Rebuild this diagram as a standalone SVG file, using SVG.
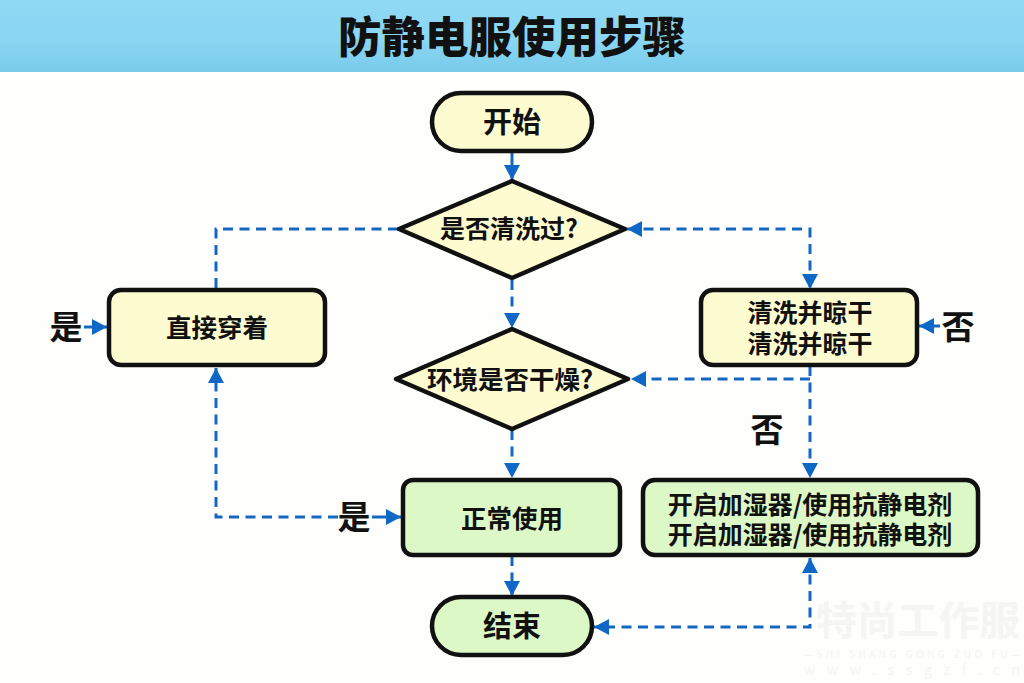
<svg xmlns="http://www.w3.org/2000/svg" width="1024" height="683" viewBox="0 0 1024 683">
<style>
text{font-family:"Noto Sans CJK SC","Liberation Sans",sans-serif;font-weight:700;text-anchor:middle;fill:#111}
.n{font-size:25.5px}
.m{font-size:25px}
.l{font-size:33px}
.t{font-size:29px}
.s{fill:#fdfbd0;stroke:#111;stroke-width:4.5;stroke-linejoin:round}
.g{fill:#dbf8c6;stroke:#111;stroke-width:4.5}
.d{fill:none;stroke:#1468c0;stroke-width:3;stroke-dasharray:10 6.5}
.f{fill:none;stroke:#1468c0;stroke-width:3}
text.wm{fill:#f5f5f3}
</style>
<defs>
<linearGradient id="hdr" x1="0" y1="0" x2="0" y2="1"><stop offset="0" stop-color="#90d9f5"/><stop offset=".55" stop-color="#8ad6f3"/><stop offset="1" stop-color="#78cbea"/></linearGradient>
<marker id="a" markerUnits="userSpaceOnUse" markerWidth="16" markerHeight="16" refX="15" refY="8" orient="auto-start-reverse"><path d="M0 0L15 8L0 16z" fill="#0f68c6"/></marker>
</defs>
<rect width="1024" height="683" fill="#fefefc"/>
<rect id="header" width="1024" height="72" fill="url(#hdr)"/>
<text x="512" y="53" font-size="43.5" style="font-weight:900">防静电服使用步骤</text>
<g id="watermark"><text class="wm" x="918" y="635" font-size="40" textLength="204" lengthAdjust="spacingAndGlyphs">特尚工作服</text><text class="wm" x="912" y="658" font-size="10" style="font-weight:400" textLength="216">—SHI SHANG GONG ZUO FU—</text><text class="wm" x="912" y="675" font-size="14" style="font-weight:400" textLength="216">www.ssgzf.cn</text></g>
<g id="connectors">
<path class="f" d="M512 152V180" marker-end="url(#a)"/>
<path class="d" d="M398 229H216V290"/>
<path class="d" d="M627 229H810V289" marker-start="url(#a)" marker-end="url(#a)"/>
<path class="d" d="M512 280V328" marker-end="url(#a)"/>
<path class="d" d="M810 366V478" marker-end="url(#a)"/>
<path class="d" d="M810 379H631" marker-end="url(#a)"/>
<path class="d" d="M512 430V478" marker-end="url(#a)"/>
<path class="d" d="M338 517H216V368" marker-end="url(#a)"/>
<path class="f" d="M372 517H401" marker-end="url(#a)"/>
<path class="d" d="M512 556V596" marker-end="url(#a)"/>
<path class="d" d="M810 558V627H594" marker-start="url(#a)" marker-end="url(#a)"/>
<path class="f" d="M84 327H107" marker-end="url(#a)"/>
<path class="f" d="M940 326H919" marker-end="url(#a)"/>
</g>
<g id="start"><rect class="s" x="432" y="93" width="160" height="58" rx="29"/><text class="t" x="512" y="133">开始</text></g>
<g id="d1"><path class="s" d="M512 181L625 229L512 278L399 229Z"/><text class="m" x="509" y="238">是否清洗过?</text></g>
<g id="d2"><path class="s" d="M512 329L628 379L512 429L396 379Z"/><text class="n" x="510" y="389">环境是否干燥?</text></g>
<g id="wear"><rect class="s" x="109" y="290" width="216" height="75" rx="12"/><text class="n" x="217" y="337">直接穿着</text></g>
<g id="wash"><rect class="s" x="701" y="290" width="216" height="75" rx="12"/><text class="m"><tspan x="810" y="322">清洗并晾干</tspan><tspan x="810" y="353">清洗并晾干</tspan></text></g>
<g id="use"><rect class="g" x="403" y="480" width="217" height="75" rx="10"/><text class="n" x="512" y="528">正常使用</text></g>
<g id="humid"><rect class="g" x="643" y="480" width="335" height="75" rx="12"/><text class="m"><tspan x="810" y="514">开启加湿器/使用抗静电剂</tspan><tspan x="810" y="544">开启加湿器/使用抗静电剂</tspan></text></g>
<g id="end"><rect class="g" x="432" y="597" width="160" height="58" rx="29"/><text class="t" x="512" y="637">结束</text></g>
<g id="labels">
<text class="l" x="66" y="339">是</text>
<text class="l" x="958" y="339">否</text>
<text class="l" x="767" y="442">否</text>
<text class="l" x="354" y="529">是</text>
</g>
</svg>
